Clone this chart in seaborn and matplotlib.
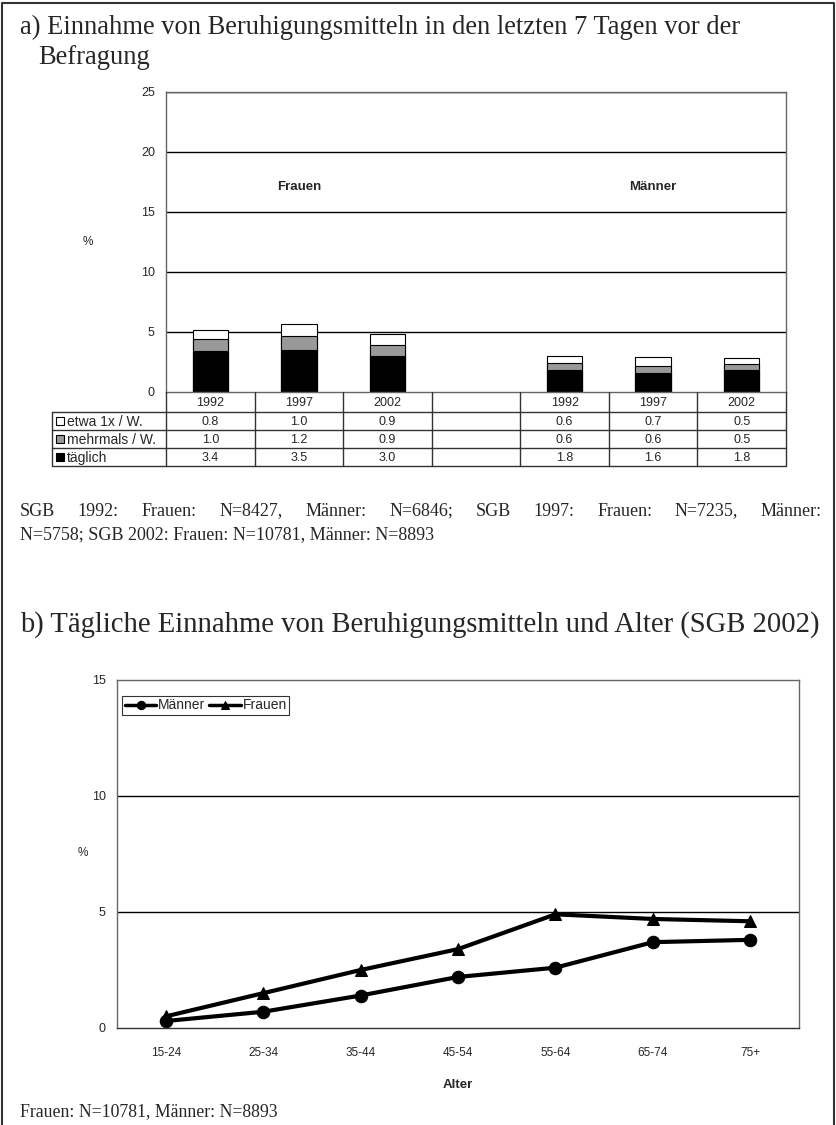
import numpy as np
import pandas as pd
import matplotlib
matplotlib.use("Agg")
import matplotlib.pyplot as plt
from matplotlib.patches import Rectangle
from matplotlib import font_manager
import seaborn as sns

# =====================================================
# DATA
# =====================================================

years = ["1992", "1997", "2002"]
groups = ["Frauen", "Männer"]

frauen_etwa = [0.8, 1.0, 0.9]
frauen_mehrmals = [1.0, 1.2, 0.9]
frauen_taeglich = [3.4, 3.5, 3.0]

maenner_etwa = [0.6, 0.7, 0.5]
maenner_mehrmals = [0.6, 0.6, 0.5]
maenner_taeglich = [1.8, 1.6, 1.8]

row_labels = ["etwa 1x / W.", "mehrmals / W.", "täglich"]

age_groups = ["15-24", "25-34", "35-44", "45-54", "55-64", "65-74", "75+"]
maenner_age = [0.3, 0.7, 1.4, 2.2, 2.6, 3.7, 3.8]
frauen_age = [0.5, 1.5, 2.5, 3.4, 4.9, 4.7, 4.6]

title_a = ["a) Einnahme von Beruhigungsmitteln in den letzten 7 Tagen vor der",
           "Befragung"]
note_a = ["SGB 1992: Frauen: N=8427, Männer: N=6846; SGB 1997: Frauen: N=7235, Männer:",
          "N=5758; SGB 2002: Frauen: N=10781, Männer: N=8893"]
title_b = "b) Tägliche Einnahme von Beruhigungsmitteln und Alter (SGB 2002)"
note_b = "Frauen: N=10781, Männer: N=8893"

# =====================================================
# STYLE
# =====================================================

sns.set_theme(style="white")
names = {f.name for f in font_manager.fontManager.ttflist}
SANS = [f for f in ["Liberation Sans", "DejaVu Sans"] if f in names] or ["DejaVu Sans"]
NARROW = [f for f in ["Liberation Sans Narrow", "Liberation Sans", "DejaVu Sans"]
          if f in names] or ["DejaVu Sans"]
SERIF = ["Liberation Serif", "DejaVu Serif"]
plt.rcParams["font.family"] = SANS

W, H = 837, 1125
fig = plt.figure(figsize=(W / 100, H / 100), dpi=100)


def box(l, t, r, b):
    return [l / W, 1 - b / H, (r - l) / W, (b - t) / H]


# canvas in pixel coordinates for frame, titles and table
cv = fig.add_axes([0, 0, 1, 1], zorder=5)
cv.set_xlim(0, W)
cv.set_ylim(H, 0)
cv.axis("off")
cv.patch.set_alpha(0)

# outer frame
cv.plot([2.5, 2.5, 834, 834], [H, 2.5, 2.5, H], color="#333333", lw=1.5)

# =====================================================
# PART A: STACKED BARS
# =====================================================

cats = [f"F{y}" for y in years] + ["gap"] + [f"M{y}" for y in years]
t = frauen_taeglich + [np.nan] + maenner_taeglich
m = frauen_mehrmals + [np.nan] + maenner_mehrmals
e = frauen_etwa + [np.nan] + maenner_etwa
df_a = pd.DataFrame({"cat": cats, "t": t, "m": m, "e": e})
df_a["tm"] = df_a["t"] + df_a["m"]
df_a["tme"] = df_a["tm"] + df_a["e"]

A_L, A_T, A_R, A_B = 166, 92, 786, 392
ax1 = fig.add_axes(box(A_L, A_T, A_R, A_B))
for col, c in [("tme", "white"), ("tm", "#999999"), ("t", "black")]:
    sns.barplot(data=df_a, x="cat", y=col, order=cats, color=c,
                edgecolor="black", linewidth=0.8, width=0.4,
                saturation=1, ax=ax1, errorbar=None)

ax1.set_ylim(0, 25)
ax1.set_xlim(-0.5, 6.5)
ax1.set_yticks([0, 5, 10, 15, 20, 25])
ax1.set_xticks([])
ax1.set_xlabel("")
ax1.set_ylabel("")
for yv in [5, 10, 15, 20, 25]:
    ax1.axhline(yv, color="black", lw=1, zorder=0)
for s in ax1.spines.values():
    s.set_color("#666666")
    s.set_linewidth(1)
ax1.tick_params(axis="y", length=4, width=1, color="#666666", direction="out",
                labelsize=9, pad=4)
for lab in ax1.get_yticklabels():
    lab.set_family(NARROW)
ax1.text(1, 17.1, "Frauen", ha="center", va="center", fontsize=9.5,
         fontweight="bold", family=NARROW)
ax1.text(5, 17.1, "Männer", ha="center", va="center", fontsize=9.5,
         fontweight="bold", family=NARROW)
cv.text(88, 242, "%", ha="center", va="center", fontsize=8.5)

# table under the bars
col_w = (A_R - A_L) / len(cats)
rows_y = [A_B, 412, 430, 448, 466]
lab_l = 52
tc = "#333333"
for yv in rows_y[1:]:
    cv.plot([lab_l, A_R], [yv, yv], color=tc, lw=1)
for i in range(len(cats) + 1):
    cv.plot([A_L + i * col_w] * 2, [A_B, rows_y[-1]], color=tc, lw=1)
cv.plot([lab_l, lab_l], [rows_y[1], rows_y[-1]], color=tc, lw=1)

table_vals = [e, m, t]
for i, c in enumerate(cats):
    xc = A_L + (i + 0.5) * col_w
    if c != "gap":
        cv.text(xc, (rows_y[0] + rows_y[1]) / 2 + 1, c[1:], ha="center",
                va="center", fontsize=9)
    for r, vals in enumerate(table_vals):
        if not np.isnan(vals[i]):
            cv.text(xc, (rows_y[r + 1] + rows_y[r + 2]) / 2 + 1, f"{vals[i]:.1f}",
                    ha="center", va="center", fontsize=9)

for r, (lab, fc) in enumerate(zip(row_labels, ["white", "#999999", "black"])):
    yc = (rows_y[r + 1] + rows_y[r + 2]) / 2
    cv.add_patch(Rectangle((56, yc - 4), 8, 8, facecolor=fc, edgecolor="black", lw=0.8))
    cv.text(67, yc + 1, lab, ha="left", va="center", fontsize=10)

# =====================================================
# PART B: LINE CHART
# =====================================================

B_L, B_T, B_R, B_B = 117, 680, 799, 1028
ax2 = fig.add_axes(box(B_L, B_T, B_R, B_B))
df_b = pd.DataFrame({
    "Alter": age_groups * 2,
    "value": maenner_age + frauen_age,
    "group": ["Männer"] * len(age_groups) + ["Frauen"] * len(age_groups),
})
sns.lineplot(data=df_b, x="Alter", y="value", hue="group", style="group",
             palette={"Männer": "black", "Frauen": "black"},
             markers={"Männer": "o", "Frauen": "^"},
             dashes={"Männer": "", "Frauen": ""},
             markersize=9, linewidth=3, markeredgecolor="black",
             sort=False, ax=ax2)

ax2.set_ylim(0, 15)
ax2.set_xlim(-0.5, len(age_groups) - 0.5)
ax2.set_yticks([0, 5, 10, 15])
ax2.set_xticks(range(len(age_groups)))
ax2.set_xticklabels(age_groups)
ax2.set_xticks(np.arange(-0.5, len(age_groups)), minor=True)
ax2.tick_params(axis="x", which="major", length=0, labelsize=8.5, pad=14)
ax2.tick_params(axis="x", which="minor", length=4, width=1, color="#666666",
                direction="out")
ax2.tick_params(axis="y", length=4, width=1, color="#666666", direction="out",
                labelsize=9, pad=4)
for lab in ax2.get_xticklabels() + ax2.get_yticklabels():
    lab.set_family(NARROW)
for yv in [5, 10]:
    ax2.axhline(yv, color="black", lw=1, zorder=0)
for s in ax2.spines.values():
    s.set_color("#666666")
    s.set_linewidth(1)
ax2.spines["bottom"].set_color("#333333")
ax2.set_ylabel("")
ax2.set_xlabel("Alter", fontsize=9.5, fontweight="bold", labelpad=14, family=NARROW)
cv.text(83, 853, "%", ha="center", va="center", fontsize=8.5)

handles, labels = ax2.get_legend_handles_labels()
leg = ax2.legend(handles, labels, loc="upper left", bbox_to_anchor=(0.008, 0.953),
                 ncol=2, frameon=True, fancybox=False, edgecolor="black",
                 fontsize=10, handlelength=2.3, handletextpad=0.1,
                 columnspacing=0.3, borderpad=0.15, borderaxespad=0)
leg.get_frame().set_linewidth(0.8)
for hnd in leg.legend_handles:
    hnd.set_markersize(6)
    hnd.set_linewidth(2.5)

# =====================================================
# TITLES AND NOTES
# =====================================================

cv.text(20, 27, title_a[0], family=SERIF, fontsize=19.1, va="center", ha="left")
cv.text(38, 57, title_a[1], family=SERIF, fontsize=19.1, va="center", ha="left")
cv.text(20, 625, title_b, family=SERIF, fontsize=20.6, va="center", ha="left")
cv.text(20, 1112, note_b, family=SERIF, fontsize=12.8, va="center", ha="left")

# justified first line of the note under part a
fig.canvas.draw()
renderer = fig.canvas.get_renderer()
words = note_a[0].split(" ")
tmp = [cv.text(0, 0, w, family=SERIF, fontsize=13) for w in words]
widths = [tt.get_window_extent(renderer).width for tt in tmp]
for tt in tmp:
    tt.remove()
x0, x1 = 20, 822
gap = (x1 - x0 - sum(widths)) / (len(words) - 1)
xp = x0
for w, wd in zip(words, widths):
    cv.text(xp, 511, w, family=SERIF, fontsize=13, va="center", ha="left")
    xp += wd + gap
cv.text(20, 535, note_a[1], family=SERIF, fontsize=13, va="center", ha="left")

fig.savefig("out.png", dpi=100)
